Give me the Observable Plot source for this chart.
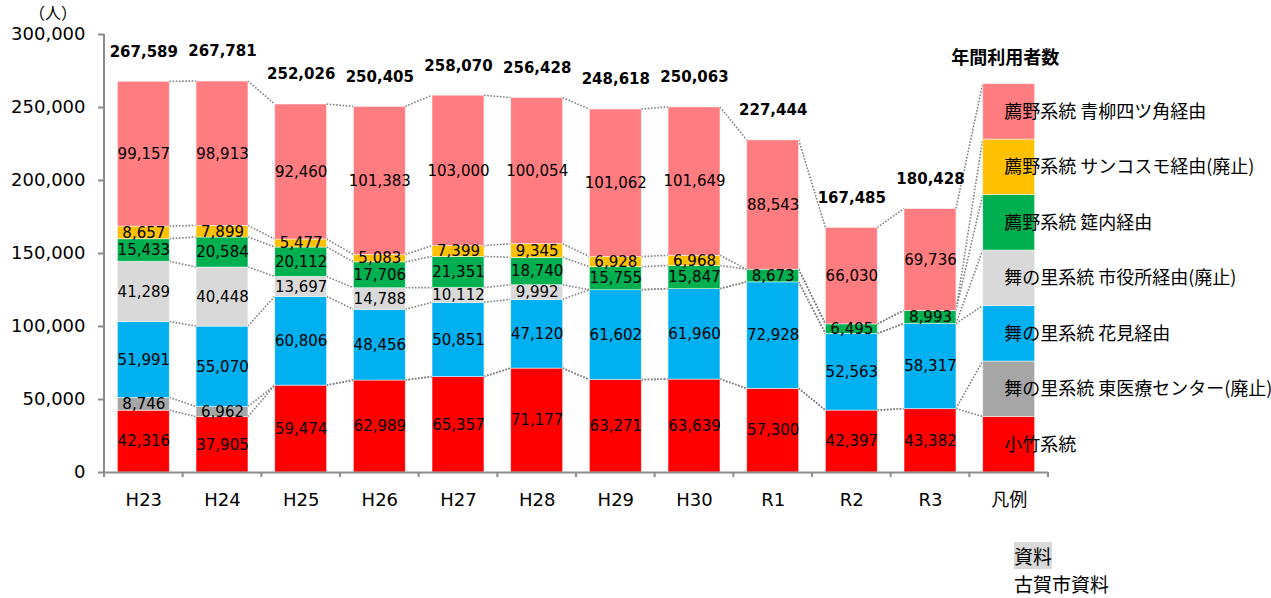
<!DOCTYPE html>
<html><head><meta charset="utf-8">
<script src="https://cdn.jsdelivr.net/npm/d3@7"></script>
<script src="https://cdn.jsdelivr.net/npm/@observablehq/plot@0.6"></script>
<style>
html,body{margin:0;padding:0;background:#fff;}
#wrap{position:relative;width:1271px;height:598px;overflow:hidden;font-family:"DejaVu Sans","Noto Sans CJK JP",sans-serif;}
.note{position:absolute;font-family:"Noto Sans CJK JP",sans-serif;color:#000;white-space:nowrap;}
</style></head>
<body>
<div id="wrap">
  <div id="chart"></div>
  <div class="note" style="left:29px;top:0px;font-size:16px;line-height:24px;height:24px;">（人）</div>
  <div class="note" style="left:1014px;top:542px;font-size:19px;line-height:27px;height:27px;background:#D9D9D9;">資料</div>
  <div class="note" style="left:1014px;top:570px;font-size:19px;line-height:27px;height:27px;">古賀市資料</div>
</div>
<script>
const years = ["H23","H24","H25","H26","H27","H28","H29","H30","R1","R2","R3"];
const legendCat = "凡例";
const seriesNames = [
  "小竹系統",
  "舞の里系統 東医療センター(廃止)",
  "舞の里系統 花見経由",
  "舞の里系統 市役所経由(廃止)",
  "薦野系統 筵内経由",
  "薦野系統 サンコスモ経由(廃止)",
  "薦野系統 青柳四ツ角経由"
];
const seriesColors = ["#FF0000","#A6A6A6","#00B0F0","#D9D9D9","#00B050","#FFC000","#FF7C80"];

const kotake      = [42316, 37905, 59474, 62989, 65357, 71177, 63271, 63639, 57300, 42397, 43382];
const higashiIryo = [8746, 6962, 0, 0, 0, 0, 0, 0, 0, 0, 0];
const hanami      = [51991, 55070, 60806, 48456, 50851, 47120, 61602, 61960, 72928, 52563, 58317];
const shiyakusho  = [41289, 40448, 13697, 14788, 10112, 9992, 0, 0, 0, 0, 0];
const mushirouchi = [15433, 20584, 20112, 17706, 21351, 18740, 15755, 15847, 8673, 6495, 8993];
const sancosmo    = [8657, 7899, 5477, 5083, 7399, 9345, 6928, 6968, 0, 0, 0];
const aoyagi      = [99157, 98913, 92460, 101383, 103000, 100054, 101062, 101649, 88543, 66030, 69736];
const totals      = [267589, 267781, 252026, 250405, 258070, 256428, 248618, 250063, 227444, 167485, 180428];
const legendSegment = 38000;
const yTicks = [0, 50000, 100000, 150000, 200000, 250000, 300000];
const chartTitle = "年間利用者数";

const seriesValues = [kotake, higashiIryo, hanami, shiyakusho, mushirouchi, sancosmo, aoyagi];
const fmt = d3.format(",");

const rows = [];
years.forEach((y, i) => seriesNames.forEach((s, k) => rows.push({x: y, series: s, value: seriesValues[k][i]})));
const legendRows = seriesNames.map(s => ({x: legendCat, series: s, value: legendSegment}));
const allRows = rows.concat(legendRows);
const categories = [...years, legendCat];

const FONT = '"DejaVu Sans","Noto Sans CJK JP",sans-serif';

const plot = Plot.plot({
  width: 1271, height: 598,
  marginLeft: 104, marginRight: 223, marginTop: 34, marginBottom: 126,
  style: {fontFamily: FONT, fontSize: "18px", color: "#000", background: "transparent", overflow: "visible"},
  x: {domain: categories, paddingInner: 0.34, paddingOuter: 0.17, round: false, label: null},
  y: {domain: [0, 300000], label: null},
  color: {domain: seriesNames, range: seriesColors},
  marks: [
    Plot.barY(allRows, {x: "x", y: "value", fill: "series", order: seriesNames, stroke: "white", strokeWidth: 0.8, strokeOpacity: 0.6}),
    Plot.text(rows.filter(d => d.value > 0), Plot.stackY({x: "x", y: "value", z: "series", order: seriesNames,
      text: d => fmt(d.value), fontSize: 15, fill: "black", lineAnchor: "middle"})),
    Plot.text(legendRows, Plot.stackY({x: "x", y: "value", z: "series", order: seriesNames,
      text: "series", textAnchor: "start", dx: -5, fontSize: 18, fill: "black", lineAnchor: "middle",
      fontFamily: '"Noto Sans CJK JP",sans-serif'})),
    Plot.text(years, {x: d => d, y: (d, i) => totals[i], text: (d, i) => fmt(totals[i]),
      dy: -30, fontSize: 15, fontWeight: "bold", fill: "black", lineAnchor: "middle"}),
    Plot.text([legendCat], {x: d => d, y: () => legendSegment * seriesNames.length, text: () => chartTitle,
      dy: -26, dx: -4, fontSize: 18, fontWeight: "bold", fill: "black", lineAnchor: "middle",
      fontFamily: '"Noto Sans CJK JP",sans-serif'}),
    Plot.axisY({ticks: yTicks, tickFormat: fmt, tickSize: 6, tickPadding: 13, fontSize: 18,
      stroke: "#8c8c8c", strokeWidth: 2, fill: "black"}),
    Plot.axisX({tickSize: 0, tickPadding: 21, fontSize: 18, fill: "black"}),
    Plot.ruleY([0], {stroke: "#8c8c8c", strokeWidth: 2})
  ]
});

document.getElementById("chart").appendChild(plot);

// connectors, x boundary ticks and y-axis line using the plot's own scales
const sx = plot.scale("x"), sy = plot.scale("y");
const bw = sx.bandwidth, step = sx.step;
const svg = d3.select(plot.tagName.toLowerCase() === "svg" ? plot : plot.querySelector("svg"));

const cum = categories.map((c, i) => {
  let acc = 0;
  return seriesNames.map((s, k) => {
    acc += (c === legendCat) ? legendSegment : seriesValues[k][i];
    return acc;
  });
});

const gConn = svg.insert("g", ":first-child").attr("fill", "none")
  .attr("stroke", "#808080").attr("stroke-width", 1.6).attr("stroke-dasharray", "1.6 1.6");
for (let i = 0; i < categories.length - 1; i++) {
  for (let k = 0; k < seriesNames.length; k++) {
    gConn.append("line")
      .attr("x1", sx.apply(categories[i]) + bw).attr("y1", sy.apply(cum[i][k]))
      .attr("x2", sx.apply(categories[i + 1])).attr("y2", sy.apply(cum[i + 1][k]));
  }
}

const x0 = sx.apply(categories[0]) - (step - bw) / 2;
const gAx = svg.append("g").attr("stroke", "#8c8c8c").attr("stroke-width", 2);
for (let j = 0; j <= categories.length; j++) {
  const xx = x0 + j * step;
  gAx.append("line").attr("x1", xx).attr("x2", xx).attr("y1", sy.apply(0)).attr("y2", sy.apply(0) + 5);
}
gAx.append("line").attr("x1", x0).attr("x2", x0).attr("y1", sy.apply(0) + 1).attr("y2", sy.apply(300000));
</script>
</body></html>
